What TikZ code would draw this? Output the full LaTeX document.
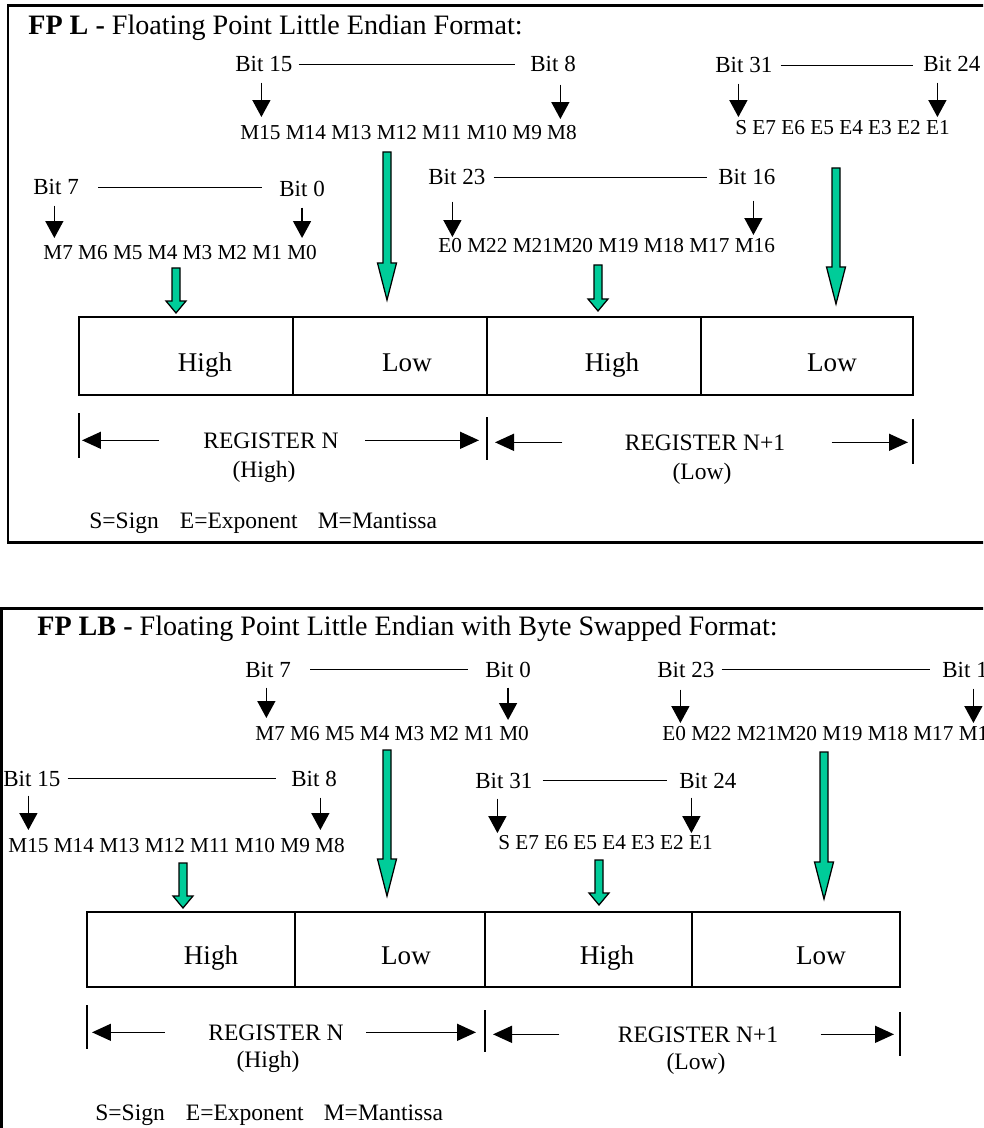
\documentclass[tikz,border=0pt]{standalone}
\usepackage{fontspec}
\setmainfont{Liberation Serif}
\usetikzlibrary{arrows.meta,calc}

\definecolor{fpgreen}{RGB}{0,204,153}

\newcommand{\titlesize}{\fontsize{16}{19}\selectfont}
\newcommand{\bitsize}{\fontsize{13.1}{15}\selectfont}
\newcommand{\rowsize}{\fontsize{12.1}{14}\selectfont}
\newcommand{\cellsize}{\fontsize{15.4}{18}\selectfont}
\newcommand{\regsize}{\fontsize{13.4}{16}\selectfont}

\tikzset{
  txt/.style={inner sep=0pt,anchor=base west},
  bitlbl/.style={txt,font=\bitsize},
  bitrow/.style={txt,font=\rowsize},
  cell/.style={inner sep=0pt,anchor=base,font=\cellsize},
  reglbl/.style={inner sep=0pt,anchor=base,font=\regsize},
  frame/.style={line width=0.06cm},
  regbox/.style={line width=0.04cm},
  divider/.style={line width=0.03cm},
  tick/.style={line width=0.03cm},
  bitline/.style={line width=0.026cm},
  bitarrow/.style={line width=0.03cm,-{Triangle[width=0.36cm,length=0.34cm]},shorten <=0.2cm,shorten >=0.15cm},
  regarrow/.style={line width=0.03cm,-{Triangle[width=0.34cm,length=0.38cm]}},
  garrow/.style={draw=black,line width=0.025cm,fill=fpgreen}
}

% x, top, tip, head length, head half width
\newcommand{\fatarrow}[5]{%
  \filldraw [garrow] ({#1-4},#2) -- ({#1+4},#2) -- ({#1+4},{#3-#4}) -- ({#1+#5},{#3-#4}) -- (#1,#3) -- ({#1-#5},{#3-#4}) -- ({#1-4},{#3-#4}) -- cycle;}

\begin{document}
\begin{tikzpicture}[x=0.02cm,y=-0.02cm]
  \useasboundingbox (0,0) rectangle (983,1128);
  \clip (0,0) rectangle (983,1128);

  %%% FP L
  \draw [frame] (8,6) rectangle (1000,542);
  \node [txt,font=\titlesize] (titleL) at (28,35) {\textbf{FP L -} Floating Point Little Endian Format:};

  \node [bitlbl] (l15) at (235,72) {Bit 15};
  \node [bitlbl] (l8) at (530,72) {Bit 8};
  \node [bitrow] (lhi) at (240,140) {M15 M14 M13 M12 M11 M10 M9 M8};
  \draw [bitline,shorten <=0.12cm,shorten >=0.3cm] (l15.east) -- (l15.east -| l8.west);
  \draw [bitarrow,shorten >=0.17cm] ($(l15.south)+(-2.4,0)$) -- ($(l15.south |- lhi.north)+(-2.4,0)$);
  \draw [bitarrow,shorten <=0.24cm,shorten >=0.13cm] ($(l8.south)+(7.3,0)$) -- ($(l8.south |- lhi.north)+(7.3,0)$);

  \node [bitlbl] (l31) at (715,73) {Bit 31};
  \node [bitlbl] (l24) at (923,72) {Bit 24};
  \node [bitrow] (ls) at (735,135) {S E7 E6 E5 E4 E3 E2 E1};
  \draw [bitline,shorten <=0.16cm,shorten >=0.2cm] (l31.east) -- (l31.east -| l24.west);
  \draw [bitarrow,shorten >=0.07cm] ($(l31.south)+(-5.4,0)$) -- ($(l31.south |- ls.north)+(-5.4,0)$);
  \draw [bitarrow,shorten >=0.07cm] ($(l24.south)+(-14.4,0)$) -- ($(l24.south |- ls.north)+(-14.4,0)$);

  \node [bitlbl] (l7) at (33,195) {Bit 7};
  \node [bitlbl] (l0) at (279,197) {Bit 0};
  \node [bitrow] (llo) at (43,260) {M7 M6 M5 M4 M3 M2 M1 M0};
  \draw [bitline,shorten <=0.38cm,shorten >=0.34cm] (l7.east) -- (l7.east -| l0.west);
  \draw [bitarrow] ($(l7.south)+(-1.7,0)$) -- ($(l7.south |- llo.north)+(-1.7,0)$);
  \draw [bitarrow] (l0.south) -- (l0.south |- llo.north);

  \node [bitlbl] (l23) at (428,185) {Bit 23};
  \node [bitlbl] (l16) at (718,185) {Bit 16};
  \node [bitrow] (le) at (438,253) {E0 M22 M21M20 M19 M18 M17 M16};
  \draw [bitline,shorten <=0.16cm,shorten >=0.22cm] (l23.east) -- (l23.east -| l16.west);
  \draw [bitarrow,shorten <=0.32cm,shorten >=0.03cm] ($(l23.south)+(-4.4,0)$) -- ($(l23.south |- le.north)+(-4.4,0)$);
  \draw [bitarrow,shorten <=0.3cm,shorten >=0.07cm] ($(l16.south)+(6.6,0)$) -- ($(l16.south |- le.north)+(6.6,0)$);

  \fatarrow{387}{152}{300}{37}{9.5}
  \fatarrow{176}{268}{313}{12}{10}
  \fatarrow{598}{265}{311}{12}{10}
  \fatarrow{836}{168}{304}{37}{9.5}

  \draw [regbox] (79,317) rectangle (913,395);
  \draw [divider] (293,317) -- (293,395);
  \draw [divider] (487,317) -- (487,395);
  \draw [divider] (701,317) -- (701,395);
  \node [cell] (lc1) at (205,371) {High};
  \node [cell] (lc2) at (407,371) {Low};
  \node [cell] (lc3) at (612,371) {High};
  \node [cell] (lc4) at (832,371) {Low};

  \coordinate (lt1) at (79,413);
  \coordinate (lt2) at (487,417);
  \coordinate (lt3) at (913,419);
  \draw [tick] (lt1) -- ++(0,45);
  \draw [tick] (lt2) -- ++(0,43);
  \draw [tick] (lt3) -- ++(0,45);
  \node [reglbl] (lrn) at (271,448) {REGISTER N};
  \node [reglbl] at (264,477) (lrnh) {(High)};
  \node [reglbl] (lrn1) at (705,450) {REGISTER N+1};
  \node [reglbl] at (702,479) (lrn1l) {(Low)};
  \draw [regarrow,shorten <=0.88cm,shorten >=0.06cm] (lrn.west) -- (lrn.west -| lt1);
  \draw [regarrow,shorten <=0.52cm,shorten >=0.16cm] (lrn.east) -- (lrn.east -| lt2);
  \draw [regarrow,shorten <=1.24cm,shorten >=0.16cm] (lrn1.west) -- (lrn1.west -| lt2);
  \draw [regarrow,shorten <=0.92cm,shorten >=0.1cm] (lrn1.east) -- (lrn1.east -| lt3);

  \node [txt,font=\regsize] (llegend) at (89,528) {S=Sign\hspace{0.42cm}E=Exponent\hspace{0.4cm}M=Mantissa};

  %%% FP LB
  \draw [frame] (1000,608) -- (1.5,608) -- (1.5,1150);
  \node [txt,font=\titlesize] (titleLB) at (37,635) {\textbf{FP LB -} Floating Point Little Endian with Byte Swapped Format:};

  \node [bitlbl] (s7) at (245,677) {Bit 7};
  \node [bitlbl] (s0) at (485,677) {Bit 0};
  \node [bitrow] (slo) at (255,740) {M7 M6 M5 M4 M3 M2 M1 M0};
  \draw [bitline,shorten <=0.38cm,shorten >=0.34cm] (s7.east) -- (s7.east -| s0.west);
  \draw [bitarrow] ($(s7.south)+(-1.7,0)$) -- ($(s7.south |- slo.north)+(-1.7,0)$);
  \draw [bitarrow,shorten >=0.11cm] (s0.south) -- (s0.south |- slo.north);

  \node [bitlbl] (s23) at (657,677) {Bit 23};
  \node [bitlbl] (s16) at (942,677) {Bit 16};
  \node [bitrow] (se) at (662,740) {E0 M22 M21M20 M19 M18 M17 M16};
  \draw [bitline,shorten <=0.14cm,shorten >=0.24cm] (s23.east) -- (s23.east -| s16.west);
  \draw [bitarrow,shorten <=0.24cm,shorten >=0.05cm] ($(s23.south)+(-5.4,0)$) -- ($(s23.south |- se.north)+(-5.4,0)$);
  \draw [bitarrow,shorten <=0.22cm,shorten >=0.05cm] ($(s16.south)+(2.6,0)$) -- ($(s16.south |- se.north)+(2.6,0)$);

  \node [bitlbl] (s15) at (3,786) {Bit 15};
  \node [bitlbl] (s8) at (291,786) {Bit 8};
  \node [bitrow] (shi) at (8,852) {M15 M14 M13 M12 M11 M10 M9 M8};
  \draw [bitline,shorten <=0.14cm,shorten >=0.3cm] (s15.east) -- (s15.east -| s8.west);
  \draw [bitarrow,shorten <=0.18cm] ($(s15.south)+(-3.4,0)$) -- ($(s15.south |- shi.north)+(-3.4,0)$);
  \draw [bitarrow,shorten <=0.22cm] ($(s8.south)+(6.3,0)$) -- ($(s8.south |- shi.north)+(6.3,0)$);

  \node [bitlbl] (s31) at (475,788) {Bit 31};
  \node [bitlbl] (s24) at (679,788) {Bit 24};
  \node [bitrow] (ss) at (498,849) {S E7 E6 E5 E4 E3 E2 E1};
  \draw [bitline,shorten <=0.2cm,shorten >=0.24cm] (s31.east) -- (s31.east -| s24.west);
  \draw [bitarrow,shorten >=0.03cm] ($(s31.south)+(-6.4,0)$) -- ($(s31.south |- ss.north)+(-6.4,0)$);
  \draw [bitarrow,shorten <=0.18cm,shorten >=0.03cm] ($(s24.south)+(-16.4,0)$) -- ($(s24.south |- ss.north)+(-16.4,0)$);

  \fatarrow{387}{750}{896}{37}{9.5}
  \fatarrow{824}{752}{899}{37}{9.5}
  \fatarrow{183}{863}{908}{12}{10}
  \fatarrow{599}{860}{905}{12}{10}

  \draw [regbox] (87,912) rectangle (900,987);
  \draw [divider] (295,912) -- (295,987);
  \draw [divider] (485,912) -- (485,987);
  \draw [divider] (692,912) -- (692,987);
  \node [cell] (sc1) at (211,964) {High};
  \node [cell] (sc2) at (406,964) {Low};
  \node [cell] (sc3) at (607,964) {High};
  \node [cell] (sc4) at (821,964) {Low};

  \coordinate (st1) at (87,1005);
  \coordinate (st2) at (485,1010);
  \coordinate (st3) at (900,1012);
  \draw [tick] (st1) -- ++(0,44);
  \draw [tick] (st2) -- ++(0,42);
  \draw [tick] (st3) -- ++(0,44);
  \node [reglbl] (srn) at (276,1040) {REGISTER N};
  \node [reglbl] (srnh) at (268,1067) {(High)};
  \node [reglbl] (srn1) at (698,1042) {REGISTER N+1};
  \node [reglbl] (srn1l) at (696,1069) {(Low)};
  \draw [regarrow,shorten <=0.86cm,shorten >=0.1cm] (srn.west) -- (srn.west -| st1);
  \draw [regarrow,shorten <=0.44cm,shorten >=0.18cm] (srn.east) -- (srn.east -| st2);
  \draw [regarrow,shorten <=1.16cm,shorten >=0.16cm] (srn1.west) -- (srn1.west -| st2);
  \draw [regarrow,shorten <=0.84cm,shorten >=0.12cm] (srn1.east) -- (srn1.east -| st3);

  \node [txt,font=\regsize] (slegend) at (95,1120) {S=Sign\hspace{0.42cm}E=Exponent\hspace{0.4cm}M=Mantissa};
\end{tikzpicture}
\end{document}
